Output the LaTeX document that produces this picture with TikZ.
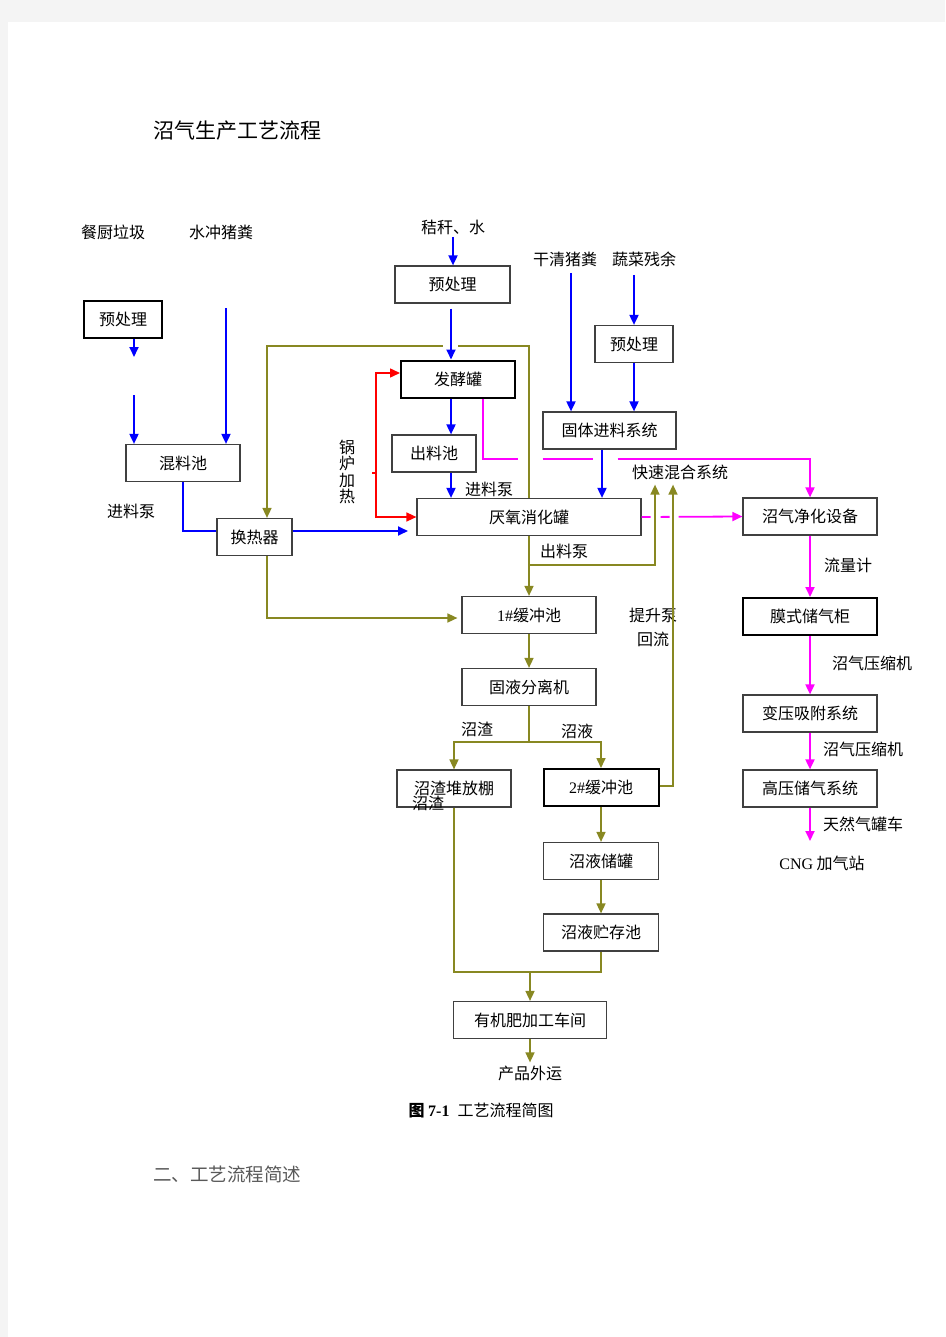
\documentclass[tikz,border=0pt]{standalone}
\usepackage{fontspec}
\setmainfont{Noto Sans CJK SC}
\newfontfamily\latinserif{Liberation Serif}
\usetikzlibrary{arrows.meta, positioning}
\definecolor{olivebr}{RGB}{136,136,34}
\definecolor{pagegray}{RGB}{244,244,244}
\definecolor{boxline}{RGB}{64,64,64}
\definecolor{gaspink}{RGB}{255,0,255}

\begin{document}
\begin{tikzpicture}[
			x=1pt, y=-1pt,
			font=\fontsize{16}{19}\selectfont,
			box/.style={draw=boxline, line width=1.2pt, fill=white, rectangle, align=center, inner sep=0pt, minimum height=37pt},
			boldbox/.style={box, draw=black, line width=2pt},
			lbl/.style={inner sep=1pt},
			tip/.style={-{Triangle[length=10pt,width=9pt]}},
			blueline/.style={draw=blue, line width=1.8pt},
			oliveline/.style={draw=olivebr, line width=1.6pt},
			redline/.style={draw=red, line width=1.5pt},
			pinkline/.style={draw=gaspink, line width=1.8pt}
			]
			
			% Page
			\useasboundingbox (0,0) rectangle (945,1337);
			\fill[pagegray] (0,0) rectangle (945,1337);
			\fill[white] (8,22) rectangle (945,1337);
			
			% Texts
			\node (title) [lbl, anchor=west, font=\fontsize{21}{24}\selectfont] at (152,131) {沼气生产工艺流程};
			\node (cchl) [lbl] at (113,232) {餐厨垃圾};
			\node (sczf) [lbl] at (221,232) {水冲猪粪};
			\node (jgs) [lbl] at (453,227) {秸秆、水};
			\node (gqzf) [lbl] at (565,259) {干清猪粪};
			\node (sccy) [lbl] at (644,259) {蔬菜残余};
			\node (jlb1) [lbl] at (131,511) {进料泵};
			\node (gljr) [lbl, align=center, font=\fontsize{16}{16.5}\selectfont] at (347,472) {锅\\炉\\加\\热};
			\node (jlb2) [lbl] at (489,489) {进料泵};
			\node (clb) [lbl] at (564,551) {出料泵};
			\node (kshh) [lbl, inner ysep=5pt] at (680,472) {快速混合系统};
			\node (llj) [lbl] at (848,565) {流量计};
			\node (ysj1) [lbl] at (872,663) {沼气压缩机};
			\node (ysj2) [lbl] at (863,749) {沼气压缩机};
			\node (trq) [lbl] at (863,824) {天然气罐车};
			\node (cngz) [lbl] at (822,863) {{\latinserif CNG} 加气站};
			\node (tsb) [lbl] at (653,615) {提升泵};
			\node (hl) [lbl] at (653,639) {回流};
			\node (zz) [lbl] at (477,729) {沼渣};
			\node (zy) [lbl] at (577,731) {沼液};
			\node (cpwy) [lbl, inner ysep=3pt] at (530,1073) {产品外运};
			\node (caption) [lbl] at (481,1111) {\textbf{图 {\latinserif 7-1}}\enspace 工艺流程简图};
			\node (sect) [lbl, anchor=west, text=black!65, font=\fontsize{18.5}{22}\selectfont] at (152,1174) {二、工艺流程简述};
			
			% Boxes
			\node (pre1) [boldbox, minimum width=78pt] at (123,319.5) {预处理};
			\node (mlc) [box, minimum width=114pt] at (183,463) {混料池};
			\node (hrq) [box, minimum width=75pt] at (254.5,537) {换热器};
			\node (pre2) [box, minimum width=115pt] at (452.5,284.5) {预处理};
			\node (fjg) [boldbox, minimum width=114pt] at (458,379) {发酵罐};
			\node (clc) [box, minimum width=84pt] at (434,453.5) {出料池};
			\node (yyg) [box, minimum width=224pt] at (529,517) {厌氧消化罐};
			\node (pre3) [box, minimum width=78pt] at (634,344) {预处理};
			\node (gtjl) [box, minimum width=133pt] at (609.5,430.5) {固体进料系统};
			\node (jhsb) [box, minimum width=134pt] at (810,516.5) {沼气净化设备};
			\node (mscq) [boldbox, minimum width=134pt] at (810,616.5) {膜式储气柜};
			\node (bxxf) [box, minimum width=134pt] at (810,713.5) {变压吸附系统};
			\node (gycq) [box, minimum width=134pt] at (810,788.5) {高压储气系统};
			\node (hc1) [box, minimum width=134pt] at (529,615) {{\latinserif 1\#}缓冲池};
			\node (gyfl) [box, minimum width=134pt] at (529,687) {固液分离机};
			\node (zzp) [box, minimum width=114pt] at (454,788.5) {沼渣堆放棚};
			\node (zzb) [lbl] at (428,803) {沼渣};
			\node (hc2) [boldbox, minimum width=115pt] at (601,787.5) {{\latinserif 2\#}缓冲池};
			\node (zycg) [box, minimum width=115pt] at (601,861) {沼液储罐};
			\node (zyzc) [box, minimum width=115pt] at (601,932.5) {沼液贮存池};
			\node (yjf) [box, minimum width=153pt] at (530,1020) {有机肥加工车间};
			
			% Helper points
			\coordinate (cA) at (451,0);
			\coordinate (cB) at (602,0);
			\coordinate (cC) at (655,0);
			\coordinate (cD) at (673,0);
			\coordinate (cE) at (267,0);
			\coordinate (p1a) at (134,357);
			\coordinate (p1b) at (134,395);
			\coordinate (sc) at (226,308);
			\coordinate (jg) at (453,237);
			\coordinate (gq) at (571,273);
			\coordinate (sc2) at (634,275);
			\coordinate (hx) at (408,531);
			\coordinate (rk) at (376,473);
			\coordinate (ot) at (529,346);
			\coordinate (cl) at (529,565);
			\coordinate (mk) at (483,459);
			\coordinate (hj) at (530,972);
			\coordinate (cng) at (810,841);
			
			% Blue connections
			\draw [blueline, tip] (pre1.south -| p1a) -- (p1a);
			\draw [blueline, tip] (p1b) -- (p1b |- mlc.north);
			\draw [blueline, tip] (sc) -- (sc |- mlc.north);
			\draw [blueline] (mlc.south) |- ([yshift=6pt]hrq.west);
			\draw [blueline, tip] ([yshift=6pt]hrq.east) -- (hx);
			\draw [blueline, tip] (jg) -- (jg |- pre2.north);
			\draw [blueline, tip, shorten <=5pt] (pre2.south -| cA) -- (fjg.north -| cA);
			\draw [blueline, tip] (fjg.south -| cA) -- (clc.north -| cA);
			\draw [blueline, tip] (clc.south -| cA) -- (yyg.north -| cA);
			\draw [blueline, tip] (gq) -- (gq |- gtjl.north);
			\draw [blueline, tip] (sc2) -- (pre3.north);
			\draw [blueline, tip] (pre3.south) -- (pre3.south |- gtjl.north);
			\draw [blueline, tip] (gtjl.south -| cB) -- (yyg.north -| cB);
			
			% Boiler heating
			\draw [redline] (rk) -- ++(-4,0);
			\draw [redline, tip] (rk) |- ([yshift=6pt]fjg.west);
			\draw [redline, tip] (rk) |- (yyg.west);
			
			% Olive connections
			\draw [oliveline, tip, dash pattern=on 223pt off 15pt on 600pt] (yyg.north) -- (ot) -| (hrq.north -| cE);
			\draw [oliveline, tip] (yyg.south) -- (hc1.north);
			\draw [oliveline, tip] (cl) -| (kshh.south -| cC);
			\draw [oliveline, tip] ([yshift=1.5pt]hc2.east) -| (kshh.south -| cD);
			\draw [oliveline, tip] (hrq.south -| cE) |- ([xshift=-4pt,yshift=-3pt]hc1.west);
			\draw [oliveline, tip] (hc1.south) -- (gyfl.north);
			\draw [oliveline] (gyfl.south) -- ++(0,36) coordinate (fz);
			\draw [oliveline, tip] (fz) -| (zzp.north);
			\draw [oliveline, tip] (fz) -| (hc2.north);
			\draw [oliveline, tip] (hc2.south) -- (zycg.north);
			\draw [oliveline, tip] (zycg.south) -- (zyzc.north);
			\draw [oliveline] (zzp.south) |- (hj) -| (zyzc.south);
			\draw [oliveline, tip] (hj) -- (yjf.north);
			\draw [oliveline, tip] (yjf.south) -- (cpwy.north);
			
			% Biogas line
			\draw [pinkline, tip, dash pattern=on 95pt off 25pt on 50pt off 25pt on 500pt] (fjg.south -| mk) -- (mk) -| (jhsb.north);
			\draw [pinkline, tip, dash pattern=on 9pt off 10pt on 9pt off 9pt on 200pt] (yyg.east) -- (jhsb.west);
			\draw [pinkline, tip] (jhsb.south) -- (mscq.north);
			\draw [pinkline, tip] (mscq.south) -- (bxxf.north);
			\draw [pinkline, tip] (bxxf.south) -- (gycq.north);
			\draw [pinkline, tip] (gycq.south) -- (cng);
			
		\end{tikzpicture}
\end{document}
